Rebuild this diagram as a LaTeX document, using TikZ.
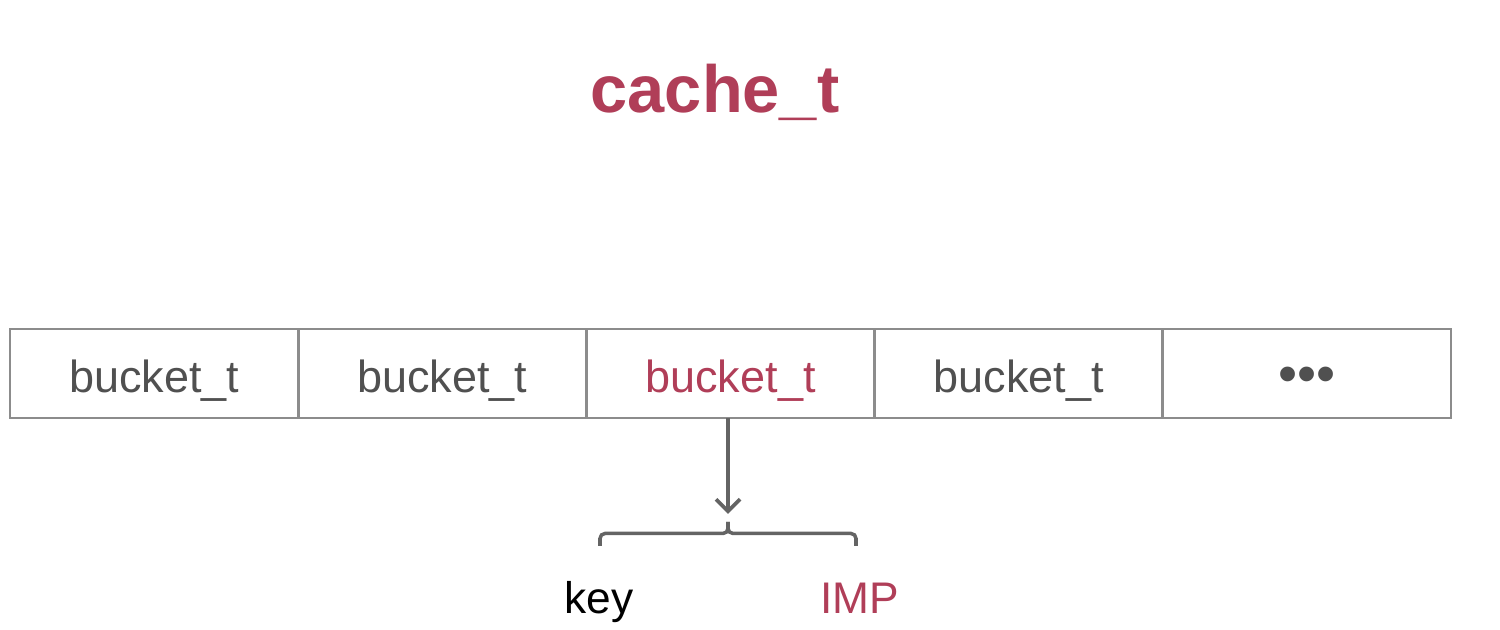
\documentclass[tikz,border=0pt]{standalone}
\usepackage{fontspec}
\setmainfont{Liberation Sans}
\usetikzlibrary{arrows.meta}
\definecolor{crimson}{RGB}{176,62,88}
\definecolor{txtgray}{RGB}{80,80,80}
\definecolor{linegray}{RGB}{140,140,140}
\definecolor{arrgray}{RGB}{100,100,100}
\tikzset{
  bucketbox/.style={draw=linegray, line width=0.8pt, minimum width=2.882cm, minimum height=0.89cm,
    inner sep=0pt, outer sep=0pt, text height=0.45cm, text depth=0.06cm, text=txtgray,
    font=\fontsize{12.8pt}{14pt}\selectfont, anchor=west},
  labeltext/.style={font=\fontsize{12.6pt}{14pt}\selectfont, anchor=base, inner sep=0pt},
  conn/.style={draw=arrgray, line width=1.1pt},
  bracepath/.style={draw=arrgray, line width=1pt, rounded corners=0.05cm},
}
\begin{document}
\begin{tikzpicture}
\useasboundingbox (0,0) rectangle (15,6.3);
\node[font=\fontsize{19pt}{22pt}\selectfont\bfseries, text=crimson, anchor=base, inner sep=0pt] (title) at (7.15,5.17) {cache\_t};
\node[bucketbox] (b1) at (0.10,2.565) {bucket\_t};
\node[bucketbox] (b2) at (b1.east) {bucket\_t};
\node[bucketbox, text=crimson] (b3) at (b2.east) {bucket\_t};
\node[bucketbox] (b4) at (b3.east) {bucket\_t};
\node[bucketbox, font=\fontsize{15.5pt}{17pt}\selectfont] (b5) at (b4.east) {•••};
\coordinate (tip) at (7.28,1.16);
\coordinate (bl) at (6.00,0.84);
\coordinate (br) at (8.56,0.84);
\coordinate (bc) at (7.28,0.965);
\coordinate (bt) at (7.28,1.08);
\draw[conn, -{Straight Barb[length=0.12cm,width=0.24cm]}] (b3.south -| tip) -- (tip);
\draw[bracepath] (bl) |- (bc) -- (bt);
\draw[bracepath] (br) |- (bc) -- (bt);
\node[labeltext, text=black] (key) at (5.99,0.16) {key};
\node[labeltext, text=crimson] (imp) at (8.60,0.16) {IMP};
\end{tikzpicture}
\end{document}
